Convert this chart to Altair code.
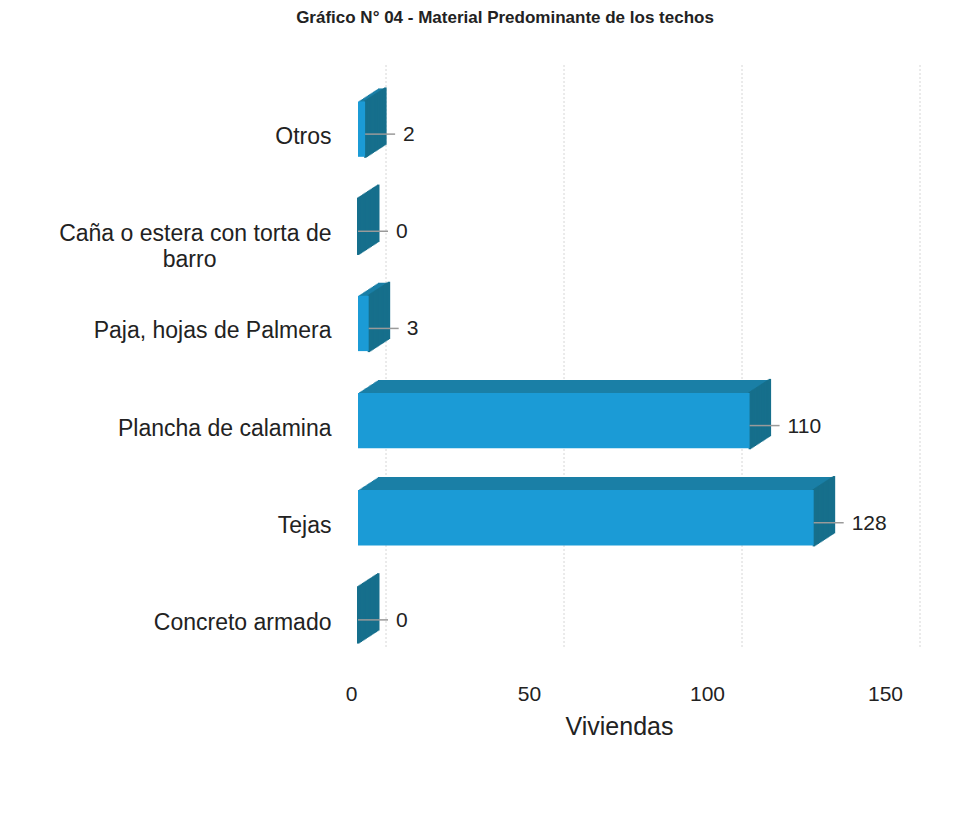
import altair as alt
import pandas as pd

categories = ["Otros", "Caña o estera con torta de|barro" + "\u00a0" * 18 + "\u2060",
              "Paja, hojas de Palmera", "Plancha de calamina", "Tejas", "Concreto armado"]
values = [2, 0, 3, 110, 128, 0]
tick_values = [0, 50, 100, 150]

df = pd.DataFrame({"cat": categories, "val": values})
grid_df = pd.DataFrame({"g": tick_values})

FRONT = "#1b9bd6"
TOP = "#1a7fa6"
SIDE = "#166f8c"
DX, DY, N = 20, 13, 16

xs = alt.Scale(domain=[0, 150], nice=False, zero=True)
ys = alt.Scale(paddingInner=0.43, paddingOuter=0.2)

x_enc = alt.X("val:Q", scale=xs,
              axis=alt.Axis(values=tick_values, title="Viviendas", grid=False, domain=False,
                            ticks=False, labelFontSize=21, labelColor="#222",
                            labelFont="Liberation Sans", labelPadding=21, labelFlush=False,
                            labelOffset=-7,
                            titleFont="Liberation Sans", titleFontSize=25,
                            titleFontWeight="normal", titleColor="#222",
                            titlePadding=10, titleX=261, titleAnchor="start", titleAlign="center"))
y_enc = alt.Y("cat:N", sort=categories, scale=ys,
              axis=alt.Axis(title=None, domain=False, ticks=False, labelFontSize=23,
                            labelColor="#222", labelFont="Liberation Sans", labelPadding=27,
                            labelOffset=8, labelLineHeight=26, labelLimit=400,
                            labelExpr="split(datum.label, '|')"))

base = alt.Chart(df)

grid = alt.Chart(grid_df).mark_rule(color="#d6d6d6", strokeDash=[2, 2], strokeWidth=1,
                                    xOffset=28).encode(
    x=alt.X("g:Q", scale=xs), y=alt.value(-17), y2=alt.value(566))

layers = [grid]
# top face (extrusion steps)
for i in range(1, N + 1):
    o = DX * i / N
    layers.append(base.mark_bar(color=TOP, xOffset=o, x2Offset=o, yOffset=-DY * i / N).encode(
        x=x_enc, x2=alt.datum(0), y=y_enc))
# side face
for i in range(0, N + 1):
    o = DX * i / N
    layers.append(base.mark_bar(color=SIDE, stroke=SIDE, strokeWidth=2, xOffset=o,
                                x2Offset=o + 0.5, yOffset=-DY * i / N).encode(
        x=alt.X("val:Q", scale=xs), x2="val:Q", y=y_enc))
# front face
layers.append(base.mark_bar(color=FRONT).encode(x=x_enc, x2=alt.datum(0), y=y_enc))
# leader lines
layers.append(base.mark_rule(color="#9a9a9a", strokeWidth=1.5, x2Offset=30, yOffset=5).encode(
    x=alt.X("val:Q", scale=xs), x2="val:Q", y=y_enc))
# value labels
layers.append(base.mark_text(align="left", baseline="middle", dx=38, dy=6, fontSize=21,
                             font="Liberation Sans", color="#222").encode(
    x=alt.X("val:Q", scale=xs), y=y_enc, text="val:Q"))

chart = alt.layer(*layers).properties(
    width=534, height=580,
    title=alt.Title("Gráfico N° 04 - Material Predominante de los techos", fontSize=17,
                    font="Liberation Sans", fontWeight="bold", color="#222",
                    anchor="middle", dx=-120, offset=38),
    autosize=alt.AutoSizeParams(type="none"),
    padding={"left": 350, "top": 74, "right": 60, "bottom": 150},
).configure_view(stroke=None)

chart.save("out.html", embed_options={"renderer": "svg", "actions": False})
